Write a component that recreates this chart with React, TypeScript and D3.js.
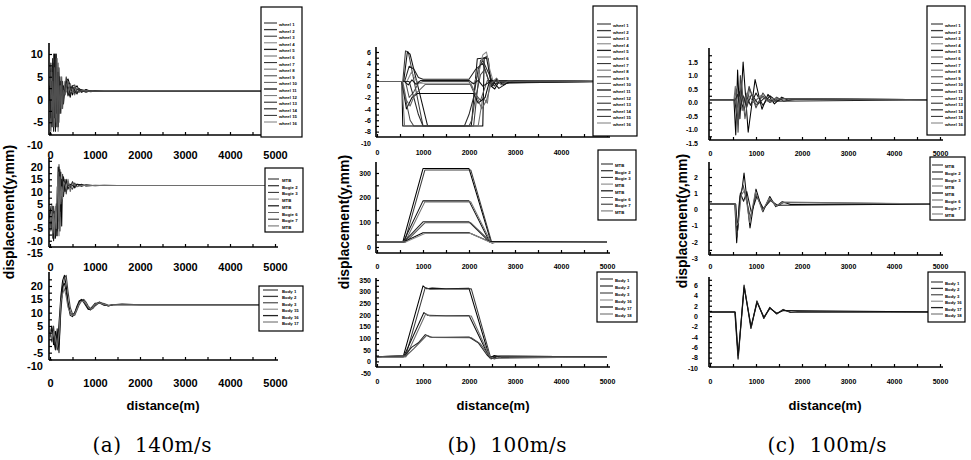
import React, { useEffect, useRef } from 'react';
import * as d3 from 'd3';

type Pt = [number, number];

/* ---------------- labels ---------------- */
const distanceTicks = [0, 1000, 2000, 3000, 4000, 5000];
const distanceMinor = [500, 1500, 2500, 3500, 4500];
const wheelLabels = d3.range(1, 17).map(i => `wheel ${i}`);
const bogieLabels = ['MTB', 'Bogie 2', 'Bogie 3', 'MTB', 'MTB', 'Bogie 6', 'Bogie 7', 'MTB'];
const bodyLabelsA = ['Body 1', 'Body 2', 'Body 3', 'Body 15', 'Body 16', 'Body 17'];
const bodyLabelsBC = ['Body 1', 'Body 2', 'Body 3', 'Body 16', 'Body 17', 'Body 18'];
const captions = ['(a)  140m/s', '(b)  100m/s', '(c)  100m/s'];

const a1Ticks = [-10, -5, 0, 5, 10];
const a2Ticks = [-15, -10, -5, 0, 5, 10, 15, 20];
const a3Ticks = [-10, -5, 0, 5, 10, 15, 20];
const b1Ticks = [-10, -8, -6, -4, -2, 0, 2, 4, 6];
const b2Ticks = [0, 100, 200, 300];
const b3Ticks = [-50, 0, 50, 100, 150, 200, 250, 300, 350];
const c1Ticks = [-1.5, -1.0, -0.5, 0.0, 0.5, 1.0, 1.5];
const c2Ticks = [-3, -2, -1, 0, 1, 2];
const c3Ticks = [-10, -8, -6, -4, -2, 0, 2, 4, 6];

/* ---------------- (a) 140 m/s ---------------- */
const a1Distance = [0, 20, 40, 60, 80, 100, 120, 140, 160, 180, 200, 220, 240, 260, 280, 300, 330, 360, 400, 450, 500, 550, 600, 650, 700, 800, 900, 1000, 1200, 5000];
const a1Wheel = [
  [0, 8, -6, 9, -5, 10, -7, 8, -4, 6, -3, 5, -2, 4, 0, 3, 1, 4, 4.5, 3, 1, 2.5, 3, 2, 1.6, 2.2, 1.8, 1.9, 1.8, 1.8],
  [2, -7, 7, -6, 10, -5, 9, -6, 7, -4, 5, -3, 4, -1, 3, 1, 2, 5, 3, 1, 3, 3.2, 1.5, 1.8, 2.2, 1.9, 1.7, 1.8, 1.8, 1.8],
  [1, 5, -4, 6, -7, 8, -6, 10, -5, 6, -2, 4, -3, 3, -1, 2, 3, 4, 2, 0.5, 2.8, 2, 1.2, 2.4, 2.0, 1.6, 1.9, 1.8, 1.8, 1.8],
  [2, 3, 6, -3, 5, -6, 7, -5, 9, -7, 4, -2, 3, -2, 2, 0, 4, 2, 1, 3.5, 2, 1, 2.6, 1.9, 1.8, 2.0, 1.8, 1.8, 1.8, 1.8],
  [3, -4, 4, -5, 8, -4, 10, -3, 6, -6, 7, -1, 2, 1, 4, -1, 2, 3.8, 0.8, 2.2, 3, 1.4, 2.2, 2.1, 1.7, 1.8, 1.8, 1.8, 1.8, 1.8],
  [0, 6, -5, 4, -6, 7, -4, 9, -6, 8, -5, 3, -1, 5, -2, 2, 1, 3, 4, 2, 1.5, 2.8, 1.8, 1.6, 2.0, 1.8, 1.8, 1.8, 1.8, 1.8],
];

const a2Distance = [0, 20, 40, 60, 80, 100, 120, 140, 160, 180, 200, 220, 240, 260, 280, 300, 330, 360, 400, 450, 500, 550, 600, 700, 800, 1000, 1200, 1500, 5000];
const a2Bogie = [
  [0, 3, -5, 4, -8, 2, -9, 0, -6, 15, 20, -6, 18, -4, 16, 8, 14, 10, 13, 11.5, 14, 12, 13, 12.2, 12.8, 12.4, 12.6, 12.5, 12.5],
  [2, -6, 3, -9, 4, -4, 3, -8, 12, -5, 21, 0, 14, 6, 17, 10, 15, 9, 14, 12, 11, 13.5, 12, 13, 12.3, 12.6, 12.5, 12.5, 12.5],
  [-1, 4, -3, 2, -10, 0, -7, 5, -8, 20, -2, 19, 2, 15, 9, 16, 10, 15, 11, 13, 12.5, 11.5, 13, 12.8, 12.4, 12.5, 12.5, 12.5, 12.5],
  [1, -2, 5, -7, 1, -9, 4, -5, 8, 18, -8, 16, 5, 12, 7, 14, 13, 11, 15, 10, 13.5, 12.5, 12, 12.5, 12.6, 12.5, 12.5, 12.5, 12.5],
];

const a3Distance = [0, 40, 80, 120, 160, 200, 240, 280, 320, 360, 400, 450, 500, 550, 600, 650, 700, 750, 800, 850, 900, 950, 1000, 1100, 1200, 1300, 1400, 1600, 2000, 5000];
const a3Body = [
  [2, 4, -2, 3, -4, 6, 16, 22, 24, 20, 14, 10, 9, 10, 12, 14, 15, 14.5, 13, 11.5, 11, 12, 13, 14, 13, 12.5, 13, 13.2, 13, 13],
  [3, -1, 5, -3, 2, -2, 10, 18, 23, 24, 18, 12, 9.5, 9, 11, 13, 14.5, 15, 14, 12.5, 11.5, 11.5, 12.5, 13.8, 13.4, 12.8, 13, 13, 13, 13],
  [1, 5, 0, -4, 4, -5, 12, 20, 21, 18, 13, 9, 8.5, 10, 12.5, 14.5, 14.8, 13.8, 12.5, 11.2, 11.5, 12.5, 13.5, 13.6, 12.8, 12.6, 13, 13, 13, 13],
  [4, 0, 3, 1, -3, 2, 14, 17, 19, 16, 12, 10, 9, 9.5, 11.5, 13.5, 14.2, 14.3, 13.3, 12, 11.3, 12, 13.2, 13.7, 13.1, 12.7, 13, 13, 13, 13],
];

/* ---------------- (b) 100 m/s ---------------- */
const b1Wheel: Pt[][] = [
  [[0, 0.8], [540, 0.8], [560, -7], [2300, -7], [2330, 5], [2420, 4.8], [2480, 0], [2560, -0.5], [2650, 0.8], [2750, 0.2], [2900, 0.9], [5000, 0.8]],
  [[0, 0.8], [560, 0.8], [620, 6.2], [680, 6], [1000, -7], [2100, -7], [2250, 4.5], [2400, 5.3], [2470, 1], [2550, 0], [2650, 1], [5000, 0.8]],
  [[0, 0.8], [580, 0.8], [660, 6], [720, 5.6], [1100, -7], [2050, -7], [2180, 4.8], [2380, 5], [2500, 0], [2600, 1.2], [2700, 0.6], [5000, 0.8]],
  [[0, 0.8], [540, 0.8], [600, -7], [2200, -7], [2300, -2], [2400, -3], [2460, 1], [5000, 0.8]],
  [[0, 0.8], [600, 0.8], [700, 3.5], [800, 3], [900, 1.5], [1000, 1.2], [2000, 1.2], [2150, 3], [2300, 4], [2450, 0.5], [5000, 0.8]],
  [[0, 0.8], [620, 0.8], [700, -2], [800, -1], [900, 0.5], [1000, 0.8], [2000, 0.8], [2100, -1], [2250, -2.5], [2400, 1], [5000, 0.8]],
  [[0, 0.8], [540, 0.8], [640, -4], [760, -2], [880, -1.3], [2100, -1.3], [2200, -3], [2350, -2], [2450, 1], [5000, 0.8]],
  [[0, 0.8], [650, 0.8], [750, 2.5], [850, 1], [950, 0.5], [2100, 0.5], [2200, 2], [2300, 5.5], [2380, 6], [2450, 3], [2520, 1], [5000, 0.8]],
  [[0, 0.8], [700, 0.8], [800, -2], [900, -5], [1000, -7], [1900, -7], [2000, -5], [2100, -2], [2200, 3], [2300, 4.5], [2500, 1], [5000, 0.8]],
  [[0, 0.8], [540, 0.8], [720, -6], [800, -7], [2000, -7], [2060, -6], [2120, -3], [2250, 2], [2350, 3], [2430, 0.8], [5000, 0.8]],
  [[0, 0.8], [600, 0.8], [680, 0.2], [760, 1.1], [850, 0.3], [950, 1], [2000, 1], [2100, 0.4], [2200, 1], [2300, 0], [2500, 1], [2650, -0.4], [2800, 0.4], [3000, 1], [3300, 0.8], [5000, 0.8]],
  [[0, 0.8], [560, 0.8], [640, -2.5], [720, -3.5], [820, -1.5], [950, -0.5], [1050, 0.3], [2050, 0.3], [2150, -1.5], [2280, -4], [2380, -2.5], [2480, 0.5], [2600, 1.4], [2700, 0.2], [2850, 0.9], [5000, 0.8]],
];

const b2Bogie: Pt[][] = [
  [[0, 20], [560, 20], [1000, 318], [2000, 318], [2480, 20], [5000, 20]],
  [[0, 20], [600, 20], [1040, 312], [2040, 312], [2500, 15], [2600, 20], [5000, 20]],
  [[0, 20], [570, 20], [1000, 187], [2000, 187], [2450, 20], [5000, 20]],
  [[0, 20], [610, 20], [1040, 183], [2040, 183], [2480, 18], [5000, 20]],
  [[0, 20], [580, 20], [1000, 102], [2000, 102], [2450, 20], [5000, 20]],
  [[0, 20], [620, 20], [1040, 98], [2040, 98], [2480, 20], [5000, 20]],
  [[0, 20], [580, 20], [1000, 58], [2000, 58], [2440, 22], [5000, 20]],
  [[0, 20], [620, 20], [1040, 55], [2040, 55], [2470, 18], [5000, 20]],
];

const b3Body: Pt[][] = [
  [[0, 20], [570, 20], [1000, 325], [1080, 312], [1200, 315], [1500, 312], [2000, 314], [2450, 15], [2550, 25], [2700, 18], [5000, 20]],
  [[0, 20], [620, 20], [1050, 318], [1150, 310], [2050, 312], [2480, 10], [2600, 22], [5000, 20]],
  [[0, 20], [580, 20], [1020, 210], [1100, 198], [1500, 196], [2000, 197], [2440, 18], [2550, 22], [5000, 20]],
  [[0, 20], [630, 20], [1060, 205], [1150, 195], [2050, 195], [2470, 12], [5000, 20]],
  [[0, 20], [600, 25], [750, 60], [900, 80], [1050, 115], [1150, 105], [1500, 104], [2000, 105], [2200, 80], [2400, 25], [2500, 12], [2650, 22], [5000, 20]],
  [[0, 20], [640, 25], [800, 55], [950, 85], [1080, 112], [1200, 103], [2050, 102], [2250, 75], [2450, 20], [2550, 10], [2700, 20], [5000, 20]],
];

/* ---------------- (c) 100 m/s ---------------- */
const c1Wheel: Pt[][] = [
  [[0, 0.1], [520, 0.1], [560, -1.2], [600, 1.2], [650, -0.6], [720, 1.5], [830, -1.1], [980, 0.85], [1130, -0.25], [1260, 0.3], [1400, -0.05], [1560, 0.2], [1700, 0.08], [1900, 0.12], [5000, 0.1]],
  [[0, 0.1], [530, 0.1], [570, 0.5], [610, -1.1], [660, 1.0], [740, -0.3], [850, 0.6], [1000, -0.2], [1150, 0.35], [1300, 0], [1450, 0.2], [1600, 0.05], [1800, 0.12], [5000, 0.1]],
  [[0, 0.1], [540, 0.1], [580, -0.5], [640, 0.4], [700, -0.2], [780, 0.3], [880, -0.1], [1000, 0.35], [1150, -0.1], [1300, 0.25], [1450, 0.05], [1600, 0.15], [5000, 0.1]],
  [[0, 0.1], [520, 0.1], [550, 0.6], [590, -0.4], [640, 0.2], [700, -0.3], [800, 0.35], [950, 0], [1100, 0.25], [1250, 0.05], [1400, 0.15], [5000, 0.1]],
  [[0, 0.1], [550, 0.1], [600, 0.3], [650, -0.2], [720, 0.25], [800, -0.15], [900, 0.3], [1050, -0.05], [1200, 0.2], [1350, 0.05], [5000, 0.1]],
  [[0, 0.1], [560, 0.1], [610, -0.8], [680, 0.8], [760, -0.6], [860, 0.5], [1000, -0.1], [1150, 0.25], [1300, 0], [1500, 0.15], [5000, 0.1]],
];

const c2Bogie: Pt[][] = [
  [[0, 0.33], [540, 0.33], [580, -2.05], [640, 0.5], [700, 1.3], [740, 2.25], [870, -1.15], [1000, 1.25], [1150, -0.15], [1300, 0.8], [1430, 0.17], [1570, 0.48], [1750, 0.3], [5000, 0.33]],
  [[0, 0.33], [550, 0.33], [590, -1.7], [650, 0.8], [720, 1.5], [780, 0.7], [880, -0.5], [1000, 0.9], [1150, 0], [1300, 0.6], [1450, 0.2], [1600, 0.42], [5000, 0.33]],
  [[0, 0.33], [560, 0.33], [600, -1.3], [660, 1.0], [730, 0.5], [800, 1.1], [900, -0.2], [1020, 0.8], [1160, 0.05], [1320, 0.55], [1470, 0.25], [5000, 0.33]],
  [[0, 0.33], [545, 0.33], [575, -1.0], [620, -0.8], [680, 0.9], [760, 1.2], [860, -0.8], [990, 1.1], [1140, -0.1], [1290, 0.7], [1440, 0.2], [1580, 0.45], [5000, 0.33]],
];

const c3Body: Pt[][] = [
  [[0, 0.8], [540, 0.8], [610, -8.3], [740, 6], [890, -2.4], [1020, 2.95], [1170, -0.45], [1300, 1.7], [1450, 0.4], [1590, 1.3], [1750, 0.7], [1900, 0.85], [5000, 0.8]],
  [[0, 0.8], [550, 0.8], [615, -8], [745, 5.8], [895, -2.2], [1025, 2.8], [1175, -0.3], [1305, 1.6], [1455, 0.5], [1595, 1.2], [1760, 0.75], [5000, 0.8]],
  [[0, 0.8], [545, 0.8], [612, -7.6], [742, 5.5], [892, -2], [1022, 2.6], [1172, -0.2], [1302, 1.5], [1452, 0.55], [1600, 1.1], [5000, 0.8]],
];

// zip a shared distance grid with each series of displacements
const zip = (xs: number[], rows: number[][]): Pt[][] => rows.map(r => r.map((v, i) => [xs[i], v] as Pt));

const grays = ['#000000', '#3c3c3c', '#111111', '#6e6e6e', '#222222', '#505050', '#0a0a0a', '#8a8a8a', '#2a2a2a', '#454545', '#151515', '#606060'];
const SANS = "'Liberation Sans', Arial, sans-serif";

const fmtInt = (d: number) => String(d);
const fmtOne = (d: number) => d.toFixed(1);

// layout of the nine panels
const panels = [
  { series: zip(a1Distance, a1Wheel), labels: wheelLabels, ticks: a1Ticks, fmt: fmtInt, left: 50, right: 275, yDomain: [-10, 10], yRange: [145, 54], top: 43, bottom: 135, xPad: 16, yPad: 6, fs: 11,
    legend: { x: 261, y: 7, w: 41, h: 130, first: 26, step: 6.6, sx0: 264, sx1: 277, tx: 279 } },
  { series: zip(a2Distance, a2Bogie), labels: bogieLabels, ticks: a2Ticks, fmt: fmtInt, left: 50, right: 275, yDomain: [-15, 20], yRange: [253, 167], top: 158, bottom: 247, xPad: 16, yPad: 6, fs: 11,
    legend: { x: 265, y: 168, w: 38, h: 64, first: 182, step: 6.7, sx0: 268, sx1: 279, tx: 282 } },
  { series: zip(a3Distance, a3Body), labels: bodyLabelsA, ticks: a3Ticks, fmt: fmtInt, left: 50, right: 275, yDomain: [-10, 20], yRange: [366, 286], top: 272, bottom: 360, xPad: 19, yPad: 6, fs: 11,
    legend: { x: 259, y: 286, w: 44, h: 45, first: 293, step: 6.4, sx0: 263, sx1: 278, tx: 282 } },
  { series: b1Wheel, labels: wheelLabels, ticks: b1Ticks, fmt: fmtInt, left: 377, right: 607, yDomain: [-10, 6], yRange: [143, 52], top: 47, bottom: 137, xPad: 13.5, yPad: 5, fs: 7,
    legend: { x: 593, y: 6, w: 44, h: 130, first: 27, step: 6.6, sx0: 597, sx1: 611, tx: 613 } },
  { series: b2Bogie, labels: bogieLabels, ticks: b2Ticks, fmt: fmtInt, left: 377, right: 607, yDomain: [0, 300], yRange: [247, 173], top: 162, bottom: 253, xPad: 11.5, yPad: 5, fs: 7,
    legend: { x: 598, y: 150, w: 38, h: 70, first: 167, step: 6.7, sx0: 601, sx1: 613, tx: 615 } },
  { series: b3Body, labels: bodyLabelsBC, ticks: b3Ticks, fmt: fmtInt, left: 377, right: 607, yDomain: [-50, 350], yRange: [373, 280], top: 278, bottom: 367, xPad: 12.5, yPad: 5, fs: 7,
    legend: { x: 597, y: 272, w: 40, h: 50, first: 282, step: 7, sx0: 600, sx1: 613, tx: 615 } },
  { series: c1Wheel, labels: wheelLabels, ticks: c1Ticks, fmt: fmtOne, left: 710, right: 940, yDomain: [-1.5, 1.5], yRange: [143, 62], top: 48, bottom: 140, xPad: 11.5, yPad: 11, fs: 7,
    legend: { x: 927, y: 6, w: 38, h: 129, first: 27, step: 6.6, sx0: 931, sx1: 943, tx: 945 } },
  { series: c2Bogie, labels: bogieLabels, ticks: c2Ticks, fmt: fmtInt, left: 710, right: 940, yDomain: [-3, 2], yRange: [258, 177], top: 162, bottom: 255, xPad: 9.5, yPad: 11, fs: 7,
    legend: { x: 930, y: 157, w: 35, h: 63, first: 168, step: 7, sx0: 932, sx1: 943, tx: 945 } },
  { series: c3Body, labels: bodyLabelsBC, ticks: c3Ticks, fmt: fmtInt, left: 710, right: 940, yDomain: [-10, 6], yRange: [368, 285], top: 277, bottom: 367, xPad: 12.5, yPad: 11, fs: 7,
    legend: { x: 928, y: 272, w: 37, h: 50, first: 285, step: 6.4, sx0: 931, sx1: 943, tx: 945 } },
];

const columns = [
  { yTitleX: 10, yTitleY: 212, xTitleX: 163, capX: 152 },
  { yTitleX: 345, yTitleY: 222, xTitleX: 493, capX: 507 },
  { yTitleX: 683, yTitleY: 221, xTitleX: 825, capX: 827 },
];

function drawPanel(svg: any, p: any) {
  const x = d3.scaleLinear().domain([0, 5000]).range([p.left, p.right]);
  const y = d3.scaleLinear().domain(p.yDomain).range(p.yRange);
  const g = svg.append('g');

  // data lines
  const line = d3.line<Pt>().x(d => x(d[0])).y(d => y(d[1]));
  p.series.forEach((s: Pt[], i: number) => {
    g.append('path')
      .attr('d', line(s))
      .attr('fill', 'none')
      .attr('stroke', grays[i % grays.length])
      .attr('stroke-width', 1.05)
      .attr('stroke-linejoin', 'round');
  });

  // x axis, inward ticks every 500 m
  const xAxis = d3.axisBottom(x)
    .tickValues([...distanceTicks, ...distanceMinor])
    .tickSizeInner(-3)
    .tickSizeOuter(0)
    .tickPadding(p.xPad)
    .tickFormat((d: any) => (distanceTicks.includes(+d) ? String(d) : ''));
  const gx = g.append('g').attr('transform', `translate(0,${p.bottom})`).call(xAxis);
  gx.select('.domain').remove();
  gx.attr('font-family', SANS).attr('font-size', p.fs).attr('font-weight', 'bold');
  gx.selectAll('line').attr('stroke-width', 1.2);

  // y axis, minor ticks half way between the labelled ones
  const step = p.ticks[1] - p.ticks[0];
  const minor = p.ticks.map((t: number) => t + step / 2);
  const minorIn = minor.filter((v: number) => y(v) <= p.bottom && y(v) >= p.top);
  const yAxis = d3.axisLeft(y)
    .tickValues([...p.ticks, ...minorIn])
    .tickSizeInner(-3)
    .tickSizeOuter(0)
    .tickPadding(p.yPad)
    .tickFormat((d: any) => (p.ticks.includes(+d) ? p.fmt(+d) : ''));
  const gy = g.append('g').attr('transform', `translate(${p.left - 1},0)`).call(yAxis);
  gy.select('.domain').remove();
  gy.attr('font-family', SANS).attr('font-size', p.fs).attr('font-weight', 'bold');
  gy.selectAll('line').attr('stroke-width', 1.2);
  gy.selectAll('.tick')
    .filter((d: any) => y(d) > p.bottom + 0.5 || y(d) < p.top)
    .select('line')
    .remove();

  // axis lines
  g.append('line')
    .attr('x1', p.left - 1).attr('x2', p.left - 1)
    .attr('y1', p.top).attr('y2', p.bottom)
    .attr('stroke', '#000').attr('stroke-width', 1.6);
  g.append('line')
    .attr('x1', p.left - 1).attr('x2', p.right + 3)
    .attr('y1', p.bottom).attr('y2', p.bottom)
    .attr('stroke', '#000').attr('stroke-width', 1.6);

  // legend box
  const L = p.legend;
  const lg = g.append('g');
  lg.append('rect')
    .attr('x', L.x).attr('y', L.y).attr('width', L.w).attr('height', L.h)
    .attr('fill', '#fff').attr('stroke', '#000').attr('stroke-width', 1.2);
  p.labels.forEach((lab: string, i: number) => {
    const ty = L.first + i * L.step;
    lg.append('line')
      .attr('x1', L.sx0).attr('x2', L.sx1)
      .attr('y1', ty - 3).attr('y2', ty - 3)
      .attr('stroke', grays[i % grays.length])
      .attr('stroke-width', i % 3 === 1 ? 1.3 : 0.9);
    lg.append('text')
      .attr('x', L.tx).attr('y', ty)
      .attr('font-family', SANS).attr('font-size', 4.3).attr('font-weight', 'bold')
      .text(lab);
  });
}

const App = () => {
  const svgRef = useRef<SVGSVGElement>(null);

  useEffect(() => {
    if (!svgRef.current) return;
    const svg = d3.select(svgRef.current);
    svg.selectAll('*').remove();

    svg.append('rect').attr('width', 971).attr('height', 460).attr('fill', '#fff');

    panels.forEach(p => drawPanel(svg, p));

    columns.forEach((c, i) => {
      svg.append('text')
        .attr('transform', `translate(${c.yTitleX},${c.yTitleY}) rotate(-90)`)
        .attr('text-anchor', 'middle').attr('dominant-baseline', 'middle')
        .attr('font-family', SANS).attr('font-size', 14).attr('font-weight', 'bold')
        .text('displacement(y,mm)');
      svg.append('text')
        .attr('x', c.xTitleX).attr('y', 407)
        .attr('text-anchor', 'middle').attr('dominant-baseline', 'middle')
        .attr('font-family', SANS).attr('font-size', 13).attr('font-weight', 'bold')
        .text('distance(m)');
      svg.append('text')
        .attr('x', c.capX - 59.5).attr('y', 452)
        .attr('textLength', 119).attr('lengthAdjust', 'spacing')
        .style('white-space', 'pre')
        .attr('font-family', "'DejaVu Serif', 'Liberation Serif', serif").attr('font-size', 20)
        .text(captions[i]);
    });
  }, []);

  return (
    <svg
      ref={svgRef}
      width={971}
      height={460}
      style={{ position: 'absolute', left: 0, top: 0, background: '#fff' }}
    />
  );
};

export default App;
